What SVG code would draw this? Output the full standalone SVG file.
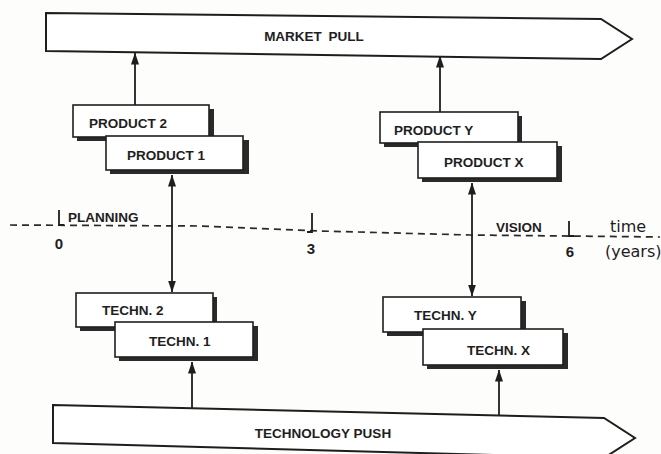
<svg xmlns="http://www.w3.org/2000/svg" width="661" height="454" viewBox="0 0 661 454">
  <style>
    .band { fill: #fff; stroke: #1e1e1e; stroke-width: 2; stroke-linejoin: miter; }
    .box { fill: #fff; stroke: #1e1e1e; stroke-width: 1.6; }
    .shadow { fill: #2a2a2a; }
    .lbl { font-family: "Liberation Sans", Arial, sans-serif; font-weight: bold; font-size: 13.5px; fill: #1e1e1e; }
    .num { font-family: "Liberation Sans", Arial, sans-serif; font-weight: bold; font-size: 15px; fill: #1e1e1e; }
    .axis { font-family: "DejaVu Sans", sans-serif; font-size: 16px; fill: #1e1e1e; }
    .conn { stroke: #1e1e1e; stroke-width: 1.8; fill: none; }
    .dash { stroke: #2a2a2a; stroke-width: 1.7; stroke-dasharray: 7 5; fill: none; }
    .tick { stroke: #1e1e1e; stroke-width: 1.8; fill: none; }
  </style>
  <defs>
    <marker id="head" viewBox="0 0 12 8" refX="11.5" refY="4" markerWidth="12" markerHeight="8" markerUnits="userSpaceOnUse" orient="auto-start-reverse">
      <path d="M0,0 L12,4 L0,8 z" fill="#1e1e1e"/>
    </marker>
  </defs>
  <rect width="661" height="454" fill="#fdfdfc"/>

  <!-- top band -->
  <g id="market-pull">
    <polygon class="band" points="46,13 601,19 632,39 601,59 46,51"/>
    <text class="lbl" x="314" y="41" text-anchor="middle" word-spacing="3">MARKET PULL</text>
  </g>

  <!-- bottom band, its lower edge runs off the sheet -->
  <g id="technology-push">
    <polygon class="band" points="53,405 604,418 635,438 604,458 53,443"/>
    <text class="lbl" x="323" y="438" text-anchor="middle">TECHNOLOGY PUSH</text>
  </g>

  <!-- time axis -->
  <g id="time-axis">
    <path class="dash" d="M10,225 L200,226 L320,231 L470,235 L660,237"/>
    <path class="tick" d="M59,210 L59,225 L64,225"/>
    <path class="tick" d="M312,213 L312,232 L307,232"/>
    <path class="tick" d="M569,221 L569,236 L574,236"/>
    <text class="num" x="59" y="249" text-anchor="middle">0</text>
    <text class="num" x="311" y="254" text-anchor="middle">3</text>
    <text class="num" x="570" y="257" text-anchor="middle">6</text>
    <text class="lbl" x="68" y="222">PLANNING</text>
    <text class="lbl" x="496" y="232">VISION</text>
    <text class="axis" x="610" y="232">time</text>
    <text class="axis" x="605" y="257">(years)</text>
  </g>

  <!-- product boxes -->
  <g id="product-2">
    <rect class="shadow" x="77" y="109" width="137" height="32"/>
    <rect class="box" x="73" y="105" width="136" height="32"/>
    <text class="lbl" x="89" y="128">PRODUCT 2</text>
  </g>
  <g id="product-1">
    <rect class="shadow" x="110" y="140" width="139" height="34"/>
    <rect class="box" x="106" y="136" width="137" height="34"/>
    <text class="lbl" x="127" y="160">PRODUCT 1</text>
  </g>
  <g id="product-y">
    <rect class="shadow" x="384" y="116" width="138" height="31"/>
    <rect class="box" x="380" y="112" width="138" height="31"/>
    <text class="lbl" x="394" y="135">PRODUCT Y</text>
  </g>
  <g id="product-x">
    <rect class="shadow" x="422" y="146" width="140" height="36"/>
    <rect class="box" x="418" y="142" width="139" height="36"/>
    <text class="lbl" x="444" y="167">PRODUCT X</text>
  </g>

  <!-- technology boxes -->
  <g id="techn-2">
    <rect class="shadow" x="80" y="297" width="137" height="34"/>
    <rect class="box" x="76" y="293" width="137" height="34"/>
    <text class="lbl" x="102" y="315">TECHN. 2</text>
  </g>
  <g id="techn-1">
    <rect class="shadow" x="119" y="326" width="139" height="35"/>
    <rect class="box" x="115" y="322" width="138" height="35"/>
    <text class="lbl" x="149" y="346">TECHN. 1</text>
  </g>
  <g id="techn-y">
    <rect class="shadow" x="387" y="301" width="139" height="35"/>
    <rect class="box" x="383" y="297" width="138" height="35"/>
    <text class="lbl" x="414" y="320">TECHN. Y</text>
  </g>
  <g id="techn-x">
    <rect class="shadow" x="427" y="333" width="141" height="36"/>
    <rect class="box" x="423" y="329" width="140" height="36"/>
    <text class="lbl" x="467" y="355">TECHN. X</text>
  </g>

  <!-- connectors -->
  <g id="connectors">
    <line class="conn" x1="135" y1="105" x2="135" y2="53" marker-end="url(#head)"/>
    <line class="conn" x1="440" y1="112" x2="440" y2="56" marker-end="url(#head)"/>
    <line class="conn" x1="172" y1="175" x2="172" y2="292" marker-start="url(#head)" marker-end="url(#head)"/>
    <line class="conn" x1="472" y1="183" x2="472" y2="296" marker-start="url(#head)" marker-end="url(#head)"/>
    <line class="conn" x1="192" y1="408" x2="192" y2="362" marker-end="url(#head)"/>
    <line class="conn" x1="499" y1="415" x2="499" y2="370" marker-end="url(#head)"/>
  </g>
</svg>
